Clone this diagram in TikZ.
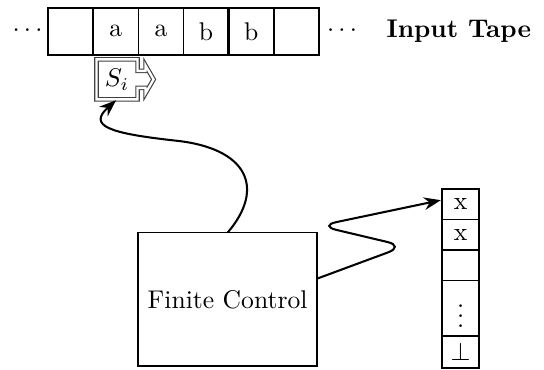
\documentclass[tikz,border=0pt]{standalone}
\usetikzlibrary{arrows.meta,positioning}
\tikzset{
  >=Stealth,
  cell/.style={draw,semithick,minimum width=0.62cm,minimum height=0.646cm,inner sep=0pt,outer sep=0pt},
  scell/.style={draw,semithick,minimum width=0.51cm,minimum height=0.42cm,inner sep=0pt,outer sep=0pt},
  ctrl/.style={draw,semithick,minimum width=2.46cm,minimum height=1.83cm,inner sep=0pt,outer sep=0pt},
  dots/.style={inner sep=1pt},
  label/.style={font=\bfseries},
  headline/.style={draw=black!75,double=white,double distance=0.9pt,line width=0.45pt},
  move/.style={->,thick,shorten >=0.5pt}
}
\begin{document}
\begin{tikzpicture}[x=1cm,y=1cm]
  \useasboundingbox (0,0) rectangle (7.47,5.08);
  % input tape
  \node[cell] (t1) at (0.97,4.65) {};
  \node[cell,right=0pt of t1] (t2) {a};
  \node[cell,right=0pt of t2] (t3) {a};
  \node[cell,right=0pt of t3] (t4) {b};
  \node[cell,right=0pt of t4] (t5) {b};
  \node[cell,right=0pt of t5] (t6) {};
  \draw[line width=1.2pt] (t4.north east)--(t4.south east);
  \node[dots,left=1pt of t1] (ldots) {$\cdots$};
  \node[dots,right=2pt of t6] (rdots) {$\cdots$};
  \node[label,right=2.4mm of rdots] (tape) {Input Tape};
  % reading head
  \node[minimum width=0.55cm,minimum height=0.535cm,inner sep=0pt] (head) at (1.607,3.99) {$S_i$};
  \draw[headline] (head.north west) -- (head.north east) -- ([yshift=1.17mm]head.east)
    -- ++(1.1mm,0) -- ++(0,0.73mm) -- ++(1.1mm,-1.9mm) -- ++(-1.1mm,-1.9mm) -- ++(0,0.73mm)
    -- ++(-1.1mm,0) -- (head.south east) -- (head.south west) -- cycle;
  % control and stack
  \node[ctrl] (fc) at (3.125,0.97) {Finite Control};
  \node[scell] (s1) at (6.325,2.276) {x};
  \node[scell,below=0pt of s1] (s2) {x};
  \node[scell,below=0pt of s2] (s3) {};
  \node[scell,below=0pt of s3,minimum height=0.76cm] (s4) {$\vdots$};
  \node[scell,below=0pt of s4,minimum height=0.44cm] (s5) {$\bot$};
    \draw[move] (fc.north) .. controls (3.65,2.5) and (3.4,3.05) .. (2.4,3.15)
      .. controls (1.5,3.25) and (1.2,3.35) .. (head.south);
    \draw[move,rounded corners=7pt] (fc.13) -- (5.56,1.7) -- (4.38,1.98) -- (s1.167);
\end{tikzpicture}
\end{document}
